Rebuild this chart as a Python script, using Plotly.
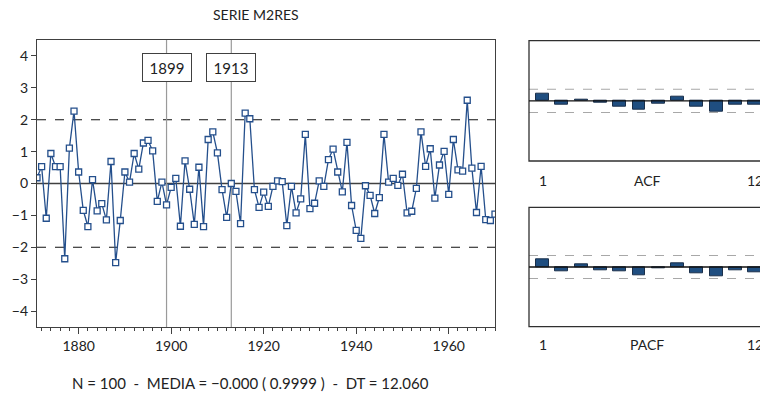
import plotly.graph_objects as go

W, H = 760, 397

years = list(range(1871, 1971))
m2res = [0.18, 0.53, -1.09, 0.94, 0.53, 0.53, -2.36, 1.11, 2.27, 0.36,
         -0.84, -1.35, 0.12, -0.86, -0.63, -1.14, 0.69, -2.48, -1.16, 0.36,
         0.04, 0.94, 0.45, 1.27, 1.35, 1.02, -0.56, 0.04, -0.67, -0.12,
         0.16, -1.34, 0.71, -0.18, -1.28, 0.51, -1.35, 1.38, 1.62, 0.96,
         -0.19, -1.06, 0.00, -0.25, -1.26, 2.21, 2.03, -0.19, -0.75, -0.27,
         -0.72, -0.09, 0.08, 0.06, -1.32, -0.09, -0.92, -0.48, 1.54, -0.79,
         -0.62, 0.08, -0.09, 0.75, 1.08, 0.36, -0.26, 1.29, -0.69, -1.47,
         -1.72, -0.07, -0.37, -0.94, -0.44, 1.54, 0.04, 0.16, -0.06, 0.29,
         -0.92, -0.87, -0.15, 1.62, 0.54, 1.09, -0.46, 0.58, 1.01, -0.34,
         1.38, 0.43, 0.39, 2.61, 0.48, -0.91, 0.54, -1.13, -1.16, -0.96]

lags = list(range(1, 13))
acf = [0.13, -0.063, 0.02, -0.034, -0.097, -0.154, -0.05, 0.074, -0.097, -0.189, -0.063, -0.063]
pacf = [0.131, -0.08, 0.046, -0.057, -0.074, -0.143, -0.023, 0.063, -0.114, -0.166, -0.057, -0.091]

marked_years = [1899, 1913]
y_ticks = [-4, -3, -2, -1, 0, 1, 2, 3, 4]
x_ticks = [1880, 1900, 1920, 1940, 1960]
band = 0.2

FONT = "Lato, 'Open Sans', sans-serif"
TXT = "#222222"
BLUE = "#244f8c"
BAR = "#1f4e80"

def px(x):
    return x / W

def py(y):
    return 1 - y / H

fig = go.Figure()

fig.add_trace(go.Scatter(
    x=years, y=m2res, mode="lines+markers",
    line=dict(color=BLUE, width=1.3),
    marker=dict(symbol="square", size=6, color="white", line=dict(color=BLUE, width=1.3)),
    xaxis="x", yaxis="y", showlegend=False, cliponaxis=True))

fig.add_trace(go.Bar(x=lags, y=acf, width=0.67, marker=dict(color=BAR, line=dict(color="#1a2f4a", width=1)),
                     xaxis="x2", yaxis="y2", showlegend=False))
fig.add_trace(go.Bar(x=lags, y=pacf, width=0.67, marker=dict(color=BAR, line=dict(color="#1a2f4a", width=1)),
                     xaxis="x3", yaxis="y3", showlegend=False))

main_x_dom = [px(37), px(495)]
main_y_dom = [py(327), py(40)]
acf_y_dom = [py(161), py(40.7)]
pacf_y_dom = [py(326.7), py(207.3)]
side_x_dom = [px(529), 1.0]
lag_lo = 1 - (542.5 - 529) / 19.3
lag_hi = 1 + (760 - 542.5) / 19.3

fig.update_layout(
    width=W, height=H, margin=dict(l=0, r=0, t=0, b=0),
    paper_bgcolor="white", plot_bgcolor="white",
    font=dict(family=FONT, color=TXT, size=14),
    bargap=0,
    xaxis=dict(domain=main_x_dom, range=[1871, 1970], tickvals=x_ticks, ticks="outside", ticklen=6,
               tickcolor="#404040", showgrid=False, zeroline=False, showline=True, linecolor="#404040",
               linewidth=1.2, mirror=True, tickfont=dict(size=14, color=TXT),
               minor=dict(dtick=2, tick0=1870, ticks="outside", ticklen=3, tickcolor="#404040", showgrid=False),
               anchor="y"),
    yaxis=dict(domain=main_y_dom, range=[-4.5, 4.5], tickvals=y_ticks, ticks="outside", ticklen=5,
               tickcolor="#404040", showgrid=False, zeroline=False, showline=True, linecolor="#404040",
               linewidth=1.2, mirror=True, tickfont=dict(size=14, color=TXT), anchor="x"),
    xaxis2=dict(domain=side_x_dom, range=[lag_lo, lag_hi], showticklabels=False, ticks="",
                showgrid=False, zeroline=False, showline=False, anchor="y2"),
    yaxis2=dict(domain=acf_y_dom, range=[-1.035, 1.035], showticklabels=False, ticks="",
                showgrid=False, zeroline=False, showline=False, anchor="x2"),
    xaxis3=dict(domain=side_x_dom, range=[lag_lo, lag_hi], showticklabels=False, ticks="",
                showgrid=False, zeroline=False, showline=False, anchor="y3"),
    yaxis3=dict(domain=pacf_y_dom, range=[-1.035, 1.035], showticklabels=False, ticks="",
                showgrid=False, zeroline=False, showline=False, anchor="x3"),
)

shapes = []
shapes.append(dict(type="line", xref="x domain", yref="y", x0=0, x1=1, y0=0, y1=0,
                   line=dict(color="#404040", width=1.3), layer="below"))
for v in (2, -2):
    shapes.append(dict(type="line", xref="x domain", yref="y", x0=0, x1=1, y0=v, y1=v,
                       line=dict(color="#111111", width=1.1, dash="dash"), layer="below"))
for yr in marked_years:
    shapes.append(dict(type="line", xref="x", yref="y domain", x0=yr, x1=yr, y0=0, y1=1,
                       line=dict(color="#9a9a9a", width=1.2), layer="below"))

for xa, ya, dom in (("x2", "y2", acf_y_dom), ("x3", "y3", pacf_y_dom)):
    shapes.append(dict(type="rect", xref="paper", yref="paper", x0=px(529), x1=1.05, y0=dom[0], y1=dom[1],
                       line=dict(color="#303030", width=1.3), fillcolor="rgba(0,0,0,0)"))
    for v in (band, -band):
        shapes.append(dict(type="line", xref=xa + " domain", yref=ya, x0=0, x1=1, y0=v, y1=v,
                           line=dict(color="#a8a8a8", width=1.1, dash="dash"), layer="below"))
    shapes.append(dict(type="line", xref=xa + " domain", yref=ya, x0=0, x1=1, y0=0, y1=0,
                       line=dict(color="#111111", width=1.3), layer="above"))
fig.update_layout(shapes=shapes)

ann = []
for yr in marked_years:
    ann.append(dict(x=yr, xref="x", y=py(67.5), yref="paper", text=str(yr), showarrow=False,
                    font=dict(size=15, color=TXT), bgcolor="white", bordercolor="#404040",
                    borderwidth=1, borderpad=2, width=44, height=23, xanchor="center", yanchor="middle"))
ann.append(dict(x=px(256), y=py(15), xref="paper", yref="paper", text="SERIE M2RES", showarrow=False,
                font=dict(size=14, color=TXT), xanchor="center", yanchor="middle"))
ann.append(dict(x=px(250), y=py(383), xref="paper", yref="paper",
                text="N = 100  -  MEDIA = \u22120.000 ( 0.9999 )  -  DT = 12.060", showarrow=False,
                font=dict(size=15, color=TXT), xanchor="center", yanchor="middle"))
for label, ylab in (("ACF", 180), ("PACF", 344)):
    ann.append(dict(x=1, xref="x2", y=py(ylab), yref="paper", text="1", showarrow=False,
                    font=dict(size=14, color=TXT), xanchor="center", yanchor="middle"))
    ann.append(dict(x=px(647), xref="paper", y=py(ylab), yref="paper", text=label, showarrow=False,
                    font=dict(size=14, color=TXT), xanchor="center", yanchor="middle"))
    ann.append(dict(x=12, xref="x2", y=py(ylab), yref="paper", text="12", showarrow=False,
                    font=dict(size=14, color=TXT), xanchor="center", yanchor="middle"))
fig.update_layout(annotations=ann)

fig.write_html("out.html")
